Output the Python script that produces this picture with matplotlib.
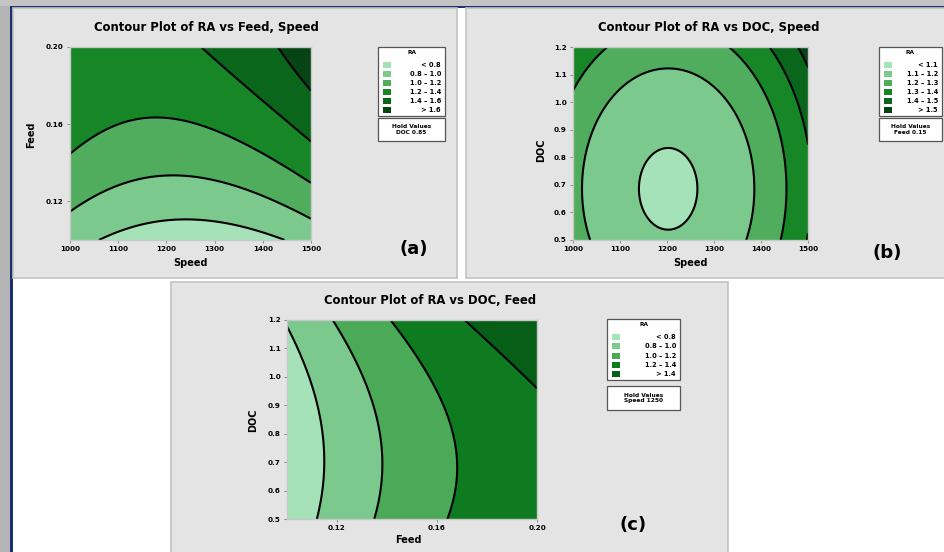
import numpy as np
import matplotlib
matplotlib.use("Agg")
import matplotlib.pyplot as plt
from matplotlib.patches import Rectangle

plt.rcParams["font.family"] = ["DejaVu Sans"]
plt.rcParams["font.weight"] = "bold"

W, H = 944, 552

# fitted RA surfaces, coded units (-1..1), read off the contour shapes
# order: const, x, y, x^2, y^2, x*y
coef_a = [1.128, 0.081, 0.346, 0.182, -0.09, 0.085]     # x=Speed, y=Feed
coef_b = [1.1106, 0.0799, 0.0682, 0.2102, 0.0726, 0.0]  # x=Speed, y=DOC
coef_c = [1.1047, 0.35, 0.0768, -0.09, 0.0831, 0.01]    # x=Feed,  y=DOC

levels_a = [0.8, 1.0, 1.2, 1.4, 1.6]
levels_b = [1.1, 1.2, 1.3, 1.4, 1.5]
levels_c = [0.8, 1.0, 1.2, 1.4]

greens6 = ["#a6e2b8", "#7cc98e", "#4fad5d", "#168627", "#0a661b", "#064414"]
greens5 = ["#a6e2b8", "#7cc98e", "#4aaa58", "#0e7b20", "#065e17"]

speed_range = (1000, 1500)
feed_range = (0.10, 0.20)
doc_range = (0.5, 1.2)
speed_ticks = [1000, 1100, 1200, 1300, 1400, 1500]
feed_ticks = [0.12, 0.16, 0.20]
doc_ticks = [0.5, 0.6, 0.7, 0.8, 0.9, 1.0, 1.1, 1.2]

hold_a = "Hold Values\nDOC 0.85"
hold_b = "Hold Values\nFeed 0.15"
hold_c = "Hold Values\nSpeed 1250"


def fr(x0, y0, x1, y1):
    # pixel box -> figure fraction rect
    return [x0 / W, 1 - y1 / H, (x1 - x0) / W, (y1 - y0) / H]


def ftext(x, y, s, **kw):
    fig.text(x / W, 1 - y / H, s, **kw)


def frect(x0, y0, x1, y1, z=-5, **kw):
    fig.add_artist(Rectangle((x0 / W, 1 - y1 / H), (x1 - x0) / W, (y1 - y0) / H,
                             transform=fig.transFigure, zorder=z, **kw))


def surface(coef, xr, yr):
    x = np.linspace(xr[0], xr[1], 300)
    y = np.linspace(yr[0], yr[1], 300)
    X, Y = np.meshgrid(x, y)
    u = (X - (xr[0] + xr[1]) / 2) / ((xr[1] - xr[0]) / 2)
    v = (Y - (yr[0] + yr[1]) / 2) / ((yr[1] - yr[0]) / 2)
    b0, b1, b2, b11, b22, b12 = coef
    Z = b0 + b1 * u + b2 * v + b11 * u ** 2 + b22 * v ** 2 + b12 * u * v
    return X, Y, Z


def panel(rect, coef, xr, yr, levels, colors, xticks, yticks, xfmt, yfmt):
    ax = fig.add_axes(rect)
    X, Y, Z = surface(coef, xr, yr)
    ax.contourf(X, Y, Z, levels=[-10] + levels + [10], colors=colors)
    ax.contour(X, Y, Z, levels=levels, colors="black", linewidths=1.5)
    ax.set_xlim(xr)
    ax.set_ylim(yr)
    ax.set_xticks(xticks)
    ax.set_yticks(yticks)
    ax.set_xticklabels([xfmt.format(t) for t in xticks])
    ax.set_yticklabels([yfmt.format(t) for t in yticks])
    ax.tick_params(labelsize=5.2, length=2, width=0.6, pad=2.5, color="#777777")
    for sp in ax.spines.values():
        sp.set_color("#c8c8c8")
        sp.set_linewidth(1.0)
    return ax


def legend(x0, x1, y0, y1, h0, h1, levels, colors, hold):
    frect(x0, y0, x1, y1, z=2, facecolor="white", edgecolor="#555555", linewidth=0.9)
    frect(x0, h0, x1, h1, z=2, facecolor="white", edgecolor="#555555", linewidth=0.9)
    labels = ["< {:.1f}".format(levels[0])]
    labels += ["{:.1f} – {:.1f}".format(a, b) for a, b in zip(levels[:-1], levels[1:])]
    labels += ["> {:.1f}".format(levels[-1])]
    ftext((x0 + x1) / 2, y0 + 6, "RA", ha="center", va="center", fontsize=4.2)
    step = (y1 - y0 - 14) / len(labels)
    for i, (lab, col) in enumerate(zip(labels, colors)):
        yy = y0 + 13 + step * (i + 0.5)
        frect(x0 + 5, yy - 3, x0 + 13, yy + 3, z=3, facecolor=col, edgecolor="none")
        ftext(x1 - 4, yy, lab, ha="right", va="center", fontsize=4.8)
    ftext((x0 + x1) / 2, (h0 + h1) / 2, hold, ha="center", va="center",
          fontsize=4.2, linespacing=1.1)


fig = plt.figure(figsize=(W / 100, H / 100), dpi=100)
fig.patch.set_facecolor("white")

# frame / shadow
frect(0, 0, 10, H, facecolor="#b4b4b4", edgecolor="none")
frect(0, 0, W, 6, facecolor="#c4c4c4", edgecolor="none")
frect(10, 6, 12.5, H, facecolor="#1c3270", edgecolor="none")
frect(10, 6, W, 8, facecolor="#1c3270", edgecolor="none")

# panel backgrounds
frect(12.5, 8, 457, 278, facecolor="#e4e4e4", edgecolor="#c2c2c2", linewidth=1.2)
frect(466, 8, W + 2, 278, facecolor="#e4e4e4", edgecolor="#c2c2c2", linewidth=1.2)
frect(171, 282, 728, H + 2, facecolor="#e4e4e4", edgecolor="#c2c2c2", linewidth=1.2)

# (a) RA vs Feed, Speed
panel(fr(70, 47, 311, 240), coef_a, speed_range, feed_range, levels_a, greens6,
      speed_ticks, feed_ticks, "{:d}", "{:.2f}")
ftext(206, 27, "Contour Plot of RA vs Feed, Speed", ha="center", va="center", fontsize=8.4)
ftext(190, 263, "Speed", ha="center", va="center", fontsize=7)
ftext(31, 135, "Feed", ha="center", va="center", fontsize=7, rotation=90)
ftext(414, 249, "(a)", ha="center", va="center", fontsize=13)
legend(378, 445, 47, 116, 118, 141, levels_a, greens6, hold_a)

# (b) RA vs DOC, Speed
panel(fr(573, 47, 808, 240), coef_b, speed_range, doc_range, levels_b, greens6,
      speed_ticks, doc_ticks, "{:d}", "{:.1f}")
ftext(709, 27, "Contour Plot of RA vs DOC, Speed", ha="center", va="center", fontsize=8.4)
ftext(690, 263, "Speed", ha="center", va="center", fontsize=7)
ftext(541, 150, "DOC", ha="center", va="center", fontsize=7, rotation=90)
ftext(887, 253, "(b)", ha="center", va="center", fontsize=13)
legend(879, 942, 47, 116, 118, 141, levels_b, greens6, hold_b)

# (c) RA vs DOC, Feed
panel(fr(287, 320, 537, 519), coef_c, feed_range, doc_range, levels_c, greens5,
      feed_ticks, doc_ticks, "{:.2f}", "{:.1f}")
ftext(430, 301, "Contour Plot of RA vs DOC, Feed", ha="center", va="center", fontsize=8.4)
ftext(408, 540, "Feed", ha="center", va="center", fontsize=7)
ftext(253, 420, "DOC", ha="center", va="center", fontsize=7, rotation=90)
ftext(633, 525, "(c)", ha="center", va="center", fontsize=13)
legend(607, 680, 319, 380, 386, 410, levels_c, greens5, hold_c)

fig.savefig("out.png", dpi=100)
